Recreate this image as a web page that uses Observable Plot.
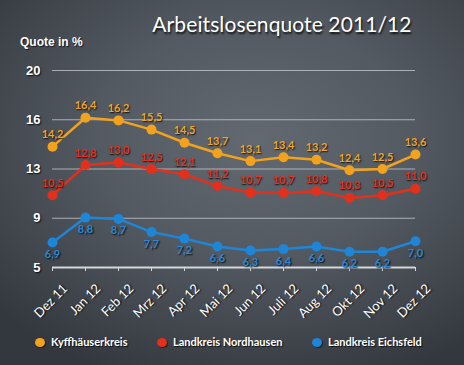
<!DOCTYPE html>
<html>
<head>
<meta charset="utf-8">
<script src="https://cdn.jsdelivr.net/npm/d3@7"></script>
<script src="https://cdn.jsdelivr.net/npm/@observablehq/plot@0.6"></script>
<style>
  html, body { margin: 0; padding: 0; }
  #wrap {
    position: relative; width: 464px; height: 365px; overflow: hidden;
    background: radial-gradient(ellipse 75% 70% at 55% 38%, #626971 0%, #545a62 45%, #40454c 80%, #33383e 100%);
    font-family: Lato, "Open Sans", sans-serif;
  }
  #title {
    position: absolute; left: 152px; top: 11px; width: 260px;
    text-align: center; color: #fff; font-size: 21px; letter-spacing: 0.1px; white-space: nowrap;
    text-shadow: 1px 2px 2px rgba(0,0,0,0.8);
  }
  #ylab {
    position: absolute; left: 20px; top: 35px; color: #fff; font: bold 12px "Liberation Sans", Arial, sans-serif;
    text-shadow: 1px 1px 1px rgba(0,0,0,0.7);
  }
  #legend { position: absolute; top: 334px; left: 0; width: 464px; height: 20px; }
  .li { position: absolute; top: 0; color: #fff; font-size: 11px; font-weight: bold; white-space: nowrap;
        text-shadow: 1px 1px 1px rgba(0,0,0,0.8); line-height: 16px; }
  .sw { display: inline-block; width: 10px; height: 9px; border-radius: 50%; vertical-align: -1px; margin-right: 6px;
        box-shadow: 1px 1px 1px rgba(0,0,0,0.5); }
  svg { position: absolute; left: 0; top: 0; background: transparent; overflow: visible; }
  svg text { text-shadow: 1px 1px 1.5px rgba(0,0,0,0.85); }
</style>
</head>
<body>
<div id="wrap">
  <div id="title">Arbeitslosenquote 2011/12</div>
  <div id="ylab">Quote in %</div>
  <div id="legend"></div>
</div>
<script>
const months = ["Dez 11","Jan 12","Feb 12","Mrz 12","Apr 12","Mai 12","Jun 12","Juli 12","Aug 12","Okt 12","Nov 12","Dez 12"];
const kyffhaeuser = [14.2,16.4,16.2,15.5,14.5,13.7,13.1,13.4,13.2,12.4,12.5,13.6];
const nordhausen = [10.5,12.8,13.0,12.5,12.1,11.2,10.7,10.7,10.8,10.3,10.5,11.0];
const eichsfeld = [6.9,8.8,8.7,7.7,7.2,6.6,6.3,6.4,6.6,6.2,6.2,7.0];
const seriesNames = ["Kyffhäuserkreis","Landkreis Nordhausen","Landkreis Eichsfeld"];
const seriesColors = ["#f3a21e","#e3301c","#1f85d6"];
const labelColors = ["#f0a52a","#e8321f","#2a88d8"];
const yTicks = [5, 8.75, 12.5, 16.25, 20];
const yTickLabels = ["5","9","13","16","20"];

const seriesValues = [kyffhaeuser, nordhausen, eichsfeld];
const data = [];
seriesValues.forEach((vals, si) => vals.forEach((v, i) => data.push({month: months[i], value: v, series: seriesNames[si], si})));
const fmt = v => d3.format(".1f")(v).replace(".", ",");

const chart = Plot.plot({
  width: 464, height: 365,
  marginLeft: 52, marginRight: 49, marginTop: 70, marginBottom: 98,
  style: {background: "transparent", overflow: "visible"},
  x: {type: "point", domain: months, padding: 0, axis: null},
  y: {type: "linear", domain: [5, 20], axis: null},
  color: {domain: seriesNames, range: seriesColors},
  marks: [
    Plot.ruleY(yTicks.slice(1), {stroke: "#c3c7cc", strokeOpacity: 0.8, strokeWidth: 1.2}),
    Plot.ruleY([5], {stroke: "#d4d7db", strokeWidth: 2.2}),
    Plot.ruleX(months, {x: d => d, y1: 5, y2: 5, insetBottom: -4, stroke: "#d4d7db", strokeWidth: 1}),
    Plot.text(yTicks, {frameAnchor: "left", y: d => d, text: (d, i) => yTickLabels[i], dx: -12, textAnchor: "end",
      fill: "white", fontSize: 13, fontWeight: "bold", fontFamily: "Liberation Sans, Arial, sans-serif"}),
    Plot.text(months, {x: d => d, frameAnchor: "bottom", text: d => d, rotate: -45, textAnchor: "end",
      lineAnchor: "middle", dx: 13, dy: 19, fill: "white", fontSize: 13, fontFamily: "Lato, sans-serif"}),
    Plot.line(data, {x: "month", y: "value", z: "series", stroke: "series", strokeWidth: 2.5}),
    Plot.dot(data, {x: "month", y: "value", fill: "series", r: 5, stroke: "none"}),
    Plot.text(data.filter(d => d.si < 2), {x: "month", y: "value", text: d => fmt(d.value), dy: -12,
      fill: d => labelColors[d.si], fontSize: 11, fontWeight: "bold", fontFamily: "Lato, sans-serif"}),
    Plot.text(data.filter(d => d.si === 2), {x: "month", y: "value", text: d => fmt(d.value), dy: 12,
      fill: d => labelColors[d.si], fontSize: 11, fontWeight: "bold", fontFamily: "Lato, sans-serif"})
  ]
});
document.getElementById("wrap").appendChild(chart);

const legendPos = [35, 157, 312];
const legend = document.getElementById("legend");
seriesNames.forEach((name, i) => {
  const el = document.createElement("div");
  el.className = "li";
  el.style.left = legendPos[i] + "px";
  el.innerHTML = `<span class="sw" style="background:${seriesColors[i]}"></span>${name}`;
  legend.appendChild(el);
});
</script>
</body>
</html>
